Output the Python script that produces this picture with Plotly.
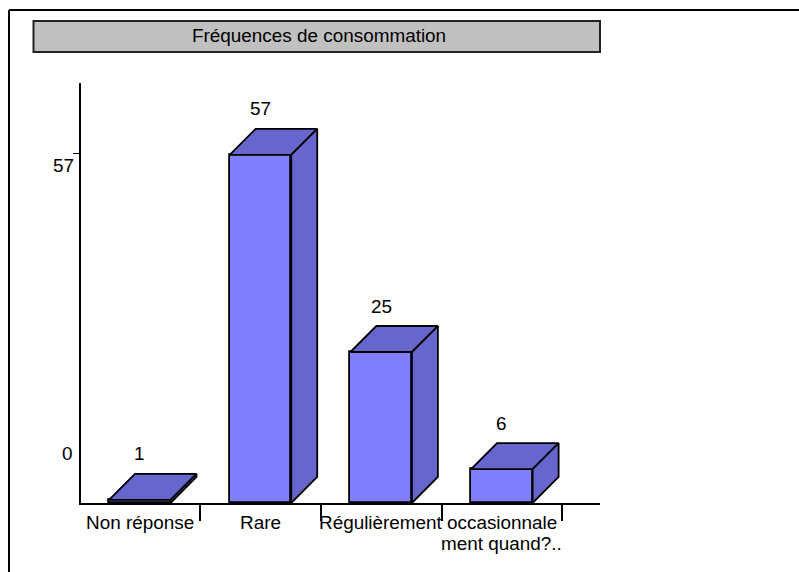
import plotly.graph_objects as go

# Data
categories = ["Non réponse", "Rare", "Régulièrement", "occasionnale<br>ment quand?.."]
values = [1, 57, 25, 6]
chart_title = "Fréquences de consommation"
y_tick_labels = ["57", "0"]

# Style / layout constants
W, H = 799, 572
L, R, T, B = 81, 600, 83, 503
FRONT, SIDE, EDGE = "#8080FF", "#6666CC", "#000000"
FONT = "Liberation Sans, Arial, sans-serif"
FS = 18.9
LW = 1.8
X_MIN, X_MAX = -0.487, 3.813
Y_MIN, Y_MAX = 0.49, 68.67
Y_TICK_POS = 57.3
BAR_W = 0.51
DX = 0.215   # depth of the 3D effect, in axis units
DY = 4.22
LINE_GAP = 21


def px(p):
    return (p - L) / (R - L)


def py(p):
    return (B - p) / (B - T)


text_font = dict(family=FONT, size=FS, color="#000000")
xs = list(range(len(categories)))
fig = go.Figure()

# Front faces
fig.add_trace(go.Bar(
    x=xs, y=[v - Y_MIN for v in values], base=Y_MIN, width=BAR_W,
    marker=dict(color=FRONT, line=dict(color=EDGE, width=LW)),
    hoverinfo="skip", cliponaxis=False, showlegend=False,
))

# Top and side faces, derived from the values
for x, v in zip(xs, values):
    a, b = x - BAR_W / 2, x + BAR_W / 2
    fig.add_trace(go.Scatter(
        x=[a, a + DX, b + DX, b, a], y=[v, v + DY, v + DY, v, v],
        mode="lines", fill="toself", fillcolor=SIDE,
        line=dict(color=EDGE, width=LW), hoverinfo="skip",
        showlegend=False, cliponaxis=False,
    ))
    fig.add_trace(go.Scatter(
        x=[b, b + DX, b + DX, b, b], y=[v, v + DY, Y_MIN + DY, Y_MIN, v],
        mode="lines", fill="toself", fillcolor=SIDE,
        line=dict(color=EDGE, width=LW), hoverinfo="skip",
        showlegend=False, cliponaxis=False,
    ))

annotations = []
# Values above bars
for x, v in zip(xs, values):
    annotations.append(dict(
        x=x, y=v, xref="x", yref="y", text=str(v), showarrow=False,
        xanchor="center", yanchor="middle", yshift=46, font=text_font,
    ))
# Category labels
for x, c in zip(xs, categories):
    for i, line in enumerate(c.split("<br>")):
        annotations.append(dict(
            x=x, y=py(522.5 + i * LINE_GAP), xref="x", yref="paper", text=line, showarrow=False,
            xanchor="center", yanchor="middle", font=text_font,
        ))
# Y labels, placed offset from their ticks as in the reference
annotations.append(dict(
    x=px(76), y=py(165), xref="paper", yref="paper", text=y_tick_labels[0],
    showarrow=False, xanchor="right", yanchor="middle", font=text_font,
))
annotations.append(dict(
    x=px(75), y=py(453), xref="paper", yref="paper", text=y_tick_labels[1],
    showarrow=False, xanchor="right", yanchor="middle", font=text_font,
))
# Title text
annotations.append(dict(
    x=px(319), y=py(35.5), xref="paper", yref="paper", text=chart_title,
    showarrow=False, xanchor="center", yanchor="middle", font=text_font,
))

shapes = [
    # Title box
    dict(type="rect", xref="paper", yref="paper", x0=px(33.5), x1=px(600), y0=py(21), y1=py(52),
         fillcolor="#C0C0C0", line=dict(color="#222222", width=2), layer="below"),
    # Outer frame: top and left edges only
    dict(type="line", xref="paper", yref="paper", x0=px(9), x1=px(799), y0=py(10), y1=py(10),
         line=dict(color="#000000", width=2)),
    dict(type="line", xref="paper", yref="paper", x0=px(9), x1=px(9), y0=py(10), y1=py(572),
         line=dict(color="#000000", width=2)),
]

fig.update_layout(
    width=W, height=H, autosize=False,
    margin=dict(l=L, r=W - R, t=T, b=H - B, pad=0),
    paper_bgcolor="#FFFFFF", plot_bgcolor="#FFFFFF",
    showlegend=False, bargap=0,
    xaxis=dict(
        range=[X_MIN, X_MAX], tickmode="array", tickvals=[x + 0.5 for x in xs],
        ticktext=[""] * len(xs), ticks="outside", ticklen=16, tickwidth=1.5, tickcolor="#000000",
        showline=True, linecolor="#000000", linewidth=1.5, showgrid=False, zeroline=False,
        fixedrange=True,
    ),
    yaxis=dict(
        range=[Y_MIN, Y_MAX], tickmode="array", tickvals=[Y_TICK_POS], ticktext=[""],
        ticks="outside", ticklen=6, tickwidth=1, tickcolor="#000000",
        showline=True, linecolor="#000000", linewidth=1.5, showgrid=False, zeroline=False,
        fixedrange=True,
    ),
    annotations=annotations, shapes=shapes,
)

fig.write_html("out.html", config=dict(displayModeBar=False),
               post_script="document.body.style.margin='0';document.body.style.overflow='hidden';")
